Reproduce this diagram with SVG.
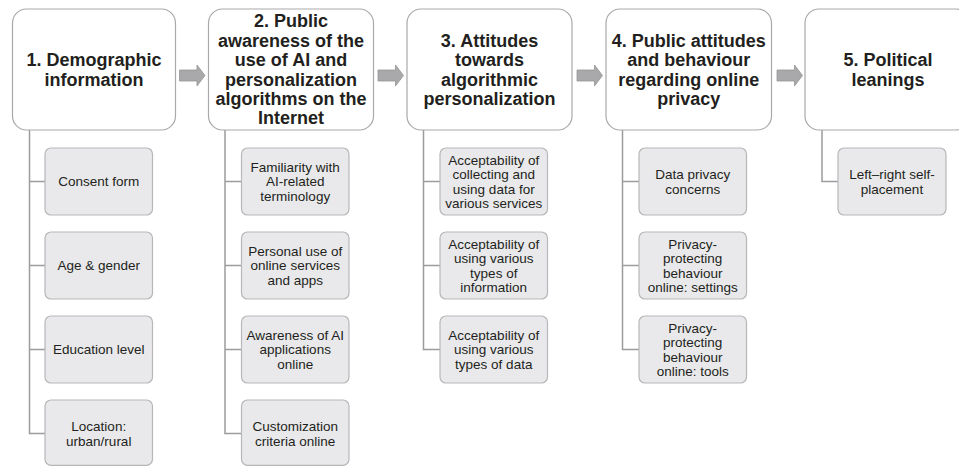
<svg xmlns="http://www.w3.org/2000/svg" width="959" height="466" viewBox="0 0 959 466">
<defs>
<style>
.hd{fill:#ffffff;stroke:#a9a9a9;stroke-width:1.2}
.sb{fill:#e9e9eb;stroke:#b7b7b9;stroke-width:1.2}
.ht{font-family:"Liberation Sans",Arial,sans-serif;font-weight:bold;font-size:18px;fill:#231f20;text-anchor:middle}
.st{font-family:"Liberation Sans",Arial,sans-serif;font-size:13.5px;fill:#231f20;text-anchor:middle}
.cn{fill:none;stroke:#9c9c9e;stroke-width:1.5}
.ar{fill:#a9a9ab;stroke:#959597;stroke-width:0.8}
</style>
</defs>
<rect width="959" height="466" fill="#ffffff"/>

<g id="connectors">
<path class="cn" d="M29.5,130 V433.5 H45 M29.5,181.5 H45 M29.5,265.5 H45 M29.5,349.5 H45"/>
<path class="cn" d="M225,130 V433.5 H241.5 M225,181.5 H241.5 M225,265.5 H241.5 M225,349.5 H241.5"/>
<path class="cn" d="M423.5,130 V349.5 H440 M423.5,181.5 H440 M423.5,265.5 H440"/>
<path class="cn" d="M622.5,130 V349.5 H639 M622.5,181.5 H639 M622.5,265.5 H639"/>
<path class="cn" d="M822,130 V181.5 H838"/>
<path class="ar" d="M179.5,70 H197 V65 L205,75.5 L197,86 V81 H179.5 Z"/>
<path class="ar" d="M378,70 H395.5 V65 L403.5,75.5 L395.5,86 V81 H378 Z"/>
<path class="ar" d="M577,70 H594.5 V65 L602.5,75.5 L594.5,86 V81 H577 Z"/>
<path class="ar" d="M777,70 H794.5 V65 L802.5,75.5 L794.5,86 V81 H777 Z"/>
</g>

<g id="h1">
<rect class="hd" x="12.5" y="9" width="163" height="121" rx="14"/>
<text class="ht" x="94" y="66.2">1. Demographic</text>
<text class="ht" x="94" y="85.6">information</text>
</g>
<g id="h2">
<rect class="hd" x="208.5" y="9" width="165" height="121" rx="14"/>
<text class="ht" x="291" y="27.4">2. Public</text>
<text class="ht" x="291" y="46.8">awareness of the</text>
<text class="ht" x="291" y="66.2">use of AI and</text>
<text class="ht" x="291" y="85.6">personalization</text>
<text class="ht" x="291" y="105">algorithms on the</text>
<text class="ht" x="291" y="124.4">Internet</text>
</g>
<g id="h3">
<rect class="hd" x="407" y="9" width="165" height="121" rx="14"/>
<text class="ht" x="489.5" y="46.8">3. Attitudes</text>
<text class="ht" x="489.5" y="66.2">towards</text>
<text class="ht" x="489.5" y="85.6">algorithmic</text>
<text class="ht" x="489.5" y="105">personalization</text>
</g>
<g id="h4">
<rect class="hd" x="606" y="9" width="165.5" height="121" rx="14"/>
<text class="ht" x="688.7" y="46.8">4. Public attitudes</text>
<text class="ht" x="688.7" y="66.2">and behaviour</text>
<text class="ht" x="688.7" y="85.6">regarding online</text>
<text class="ht" x="688.7" y="105">privacy</text>
</g>
<g id="h5">
<rect class="hd" x="805" y="9" width="165" height="121" rx="14"/>
<text class="ht" x="888" y="66.2">5. Political</text>
<text class="ht" x="888" y="85.6">leanings</text>
</g>

<g id="s1a"><rect class="sb" x="45" y="148" width="107.5" height="67" rx="6"/>
<text class="st" x="98.75" y="186.3">Consent form</text></g>
<g id="s1b"><rect class="sb" x="45" y="232" width="107.5" height="67" rx="6"/>
<text class="st" x="98.75" y="270.3">Age &amp; gender</text></g>
<g id="s1c"><rect class="sb" x="45" y="316" width="107.5" height="67" rx="6"/>
<text class="st" x="98.75" y="354.3">Education level</text></g>
<g id="s1d"><rect class="sb" x="45" y="400" width="107.5" height="65.3" rx="6"/>
<text class="st" x="98.75" y="431"><tspan x="98.75">Location:</tspan><tspan x="98.75" dy="14.5">urban/rural</tspan></text></g>

<g id="s2a"><rect class="sb" x="241.5" y="148" width="107.5" height="67" rx="6"/>
<text class="st" x="295.25" y="171.8"><tspan x="295.25">Familiarity with</tspan><tspan x="295.25" dy="14.5">AI-related</tspan><tspan x="295.25" dy="14.5">terminology</tspan></text></g>
<g id="s2b"><rect class="sb" x="241.5" y="232" width="107.5" height="67" rx="6"/>
<text class="st" x="295.25" y="255.8"><tspan x="295.25">Personal use of</tspan><tspan x="295.25" dy="14.5">online services</tspan><tspan x="295.25" dy="14.5">and apps</tspan></text></g>
<g id="s2c"><rect class="sb" x="241.5" y="316" width="107.5" height="67" rx="6"/>
<text class="st" x="295.25" y="339.8"><tspan x="295.25">Awareness of AI</tspan><tspan x="295.25" dy="14.5">applications</tspan><tspan x="295.25" dy="14.5">online</tspan></text></g>
<g id="s2d"><rect class="sb" x="241.5" y="400" width="107.5" height="65.3" rx="6"/>
<text class="st" x="295.25" y="431"><tspan x="295.25">Customization</tspan><tspan x="295.25" dy="14.5">criteria online</tspan></text></g>

<g id="s3a"><rect class="sb" x="440" y="148" width="107.5" height="67" rx="6"/>
<text class="st" x="493.75" y="164.5"><tspan x="493.75">Acceptability of</tspan><tspan x="493.75" dy="14.5">collecting and</tspan><tspan x="493.75" dy="14.5">using data for</tspan><tspan x="493.75" dy="14.5">various services</tspan></text></g>
<g id="s3b"><rect class="sb" x="440" y="232" width="107.5" height="67" rx="6"/>
<text class="st" x="493.75" y="248.5"><tspan x="493.75">Acceptability of</tspan><tspan x="493.75" dy="14.5">using various</tspan><tspan x="493.75" dy="14.5">types of</tspan><tspan x="493.75" dy="14.5">information</tspan></text></g>
<g id="s3c"><rect class="sb" x="440" y="316" width="107.5" height="67" rx="6"/>
<text class="st" x="493.75" y="339.8"><tspan x="493.75">Acceptability of</tspan><tspan x="493.75" dy="14.5">using various</tspan><tspan x="493.75" dy="14.5">types of data</tspan></text></g>

<g id="s4a"><rect class="sb" x="639" y="148" width="107.5" height="67" rx="6"/>
<text class="st" x="692.75" y="179"><tspan x="692.75">Data privacy</tspan><tspan x="692.75" dy="14.5">concerns</tspan></text></g>
<g id="s4b"><rect class="sb" x="639" y="232" width="107.5" height="67" rx="6"/>
<text class="st" x="692.75" y="248.5"><tspan x="692.75">Privacy-</tspan><tspan x="692.75" dy="14.5">protecting</tspan><tspan x="692.75" dy="14.5">behaviour</tspan><tspan x="692.75" dy="14.5">online: settings</tspan></text></g>
<g id="s4c"><rect class="sb" x="639" y="316" width="107.5" height="67" rx="6"/>
<text class="st" x="692.75" y="332.5"><tspan x="692.75">Privacy-</tspan><tspan x="692.75" dy="14.5">protecting</tspan><tspan x="692.75" dy="14.5">behaviour</tspan><tspan x="692.75" dy="14.5">online: tools</tspan></text></g>

<g id="s5a"><rect class="sb" x="838" y="148" width="108" height="67" rx="6"/>
<text class="st" x="892" y="179"><tspan x="892">Left–right self-</tspan><tspan x="892" dy="14.5">placement</tspan></text></g>
</svg>
